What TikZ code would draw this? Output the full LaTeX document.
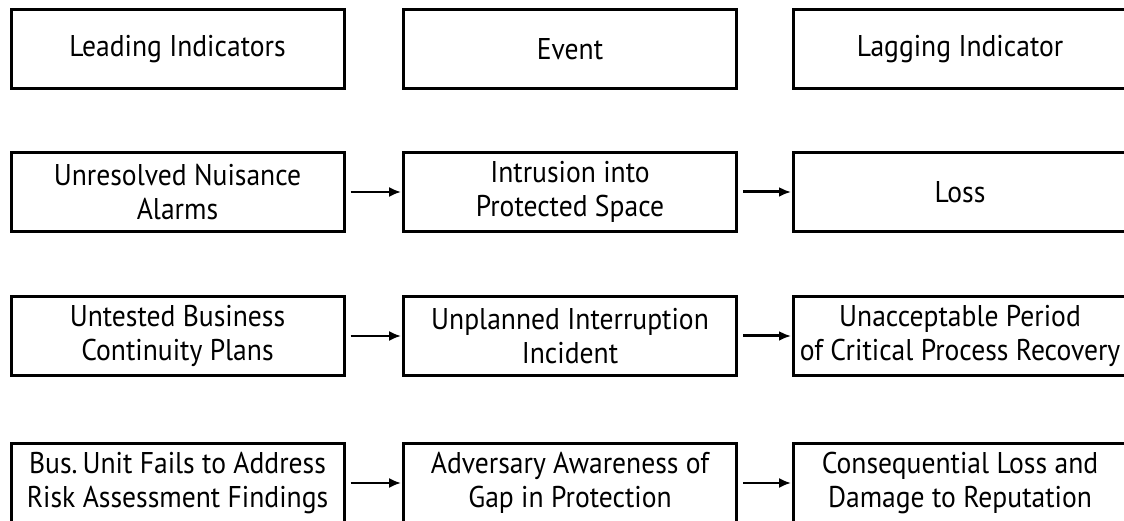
\documentclass[tikz,border=0pt]{standalone}
\usepackage{fontspec}
\setmainfont{PT Sans}[FakeStretch=0.92]
\usetikzlibrary{arrows.meta}
\begin{document}
\begin{tikzpicture}[x=1pt,y=1pt,
  box/.style={draw,line width=3pt,minimum width=333pt,minimum height=79pt,
    align=center,inner sep=0pt,font=\fontsize{30}{34}\selectfont},
  flow/.style={line width=2pt,-{Latex[length=12pt,width=10pt]},shorten <=5pt,shorten >=1pt}]
\useasboundingbox (0,0) rectangle (1124,521);

% Header row
\node[box] (lead) at (177.5,472) {Leading Indicators};
\node[box] (event) at (570,472) {Event};
\node[box] (lag) at (960,472) {Lagging Indicator};

% Intrusion
\node[box] (alarms) at (177.5,329) {Unresolved Nuisance\\Alarms};
\node[box] (intrusion) at (570,329) {Intrusion into\\Protected Space};
\node[box] (loss) at (960,329) {Loss};

% Continuity
\node[box] (plans) at (177.5,185) {Untested Business\\Continuity Plans};
\node[box] (interrupt) at (570,185) {Unplanned Interruption\\Incident};
\node[box] (recovery) at (960,185) {Unacceptable Period\\of Critical Process Recovery};

% Risk assessment
\node[box] (findings) at (177.5,38) {Bus.\,Unit Fails to Address\\Risk Assessment Findings};
\node[box] (gap) at (570,38) {Adversary Awareness of\\Gap in Protection};
\node[box] (damage) at (960,38) {Consequential Loss and\\Damage to Reputation};

% Arrows
\draw[flow] (alarms) -- (intrusion);
\draw[flow,line width=3pt] (intrusion) -- (loss);
\draw[flow] (plans) -- (interrupt);
\draw[flow,line width=3pt] (interrupt) -- (recovery);
\draw[flow] (findings) -- (gap);
\draw[flow] (gap) -- (damage);
\end{tikzpicture}
\end{document}
